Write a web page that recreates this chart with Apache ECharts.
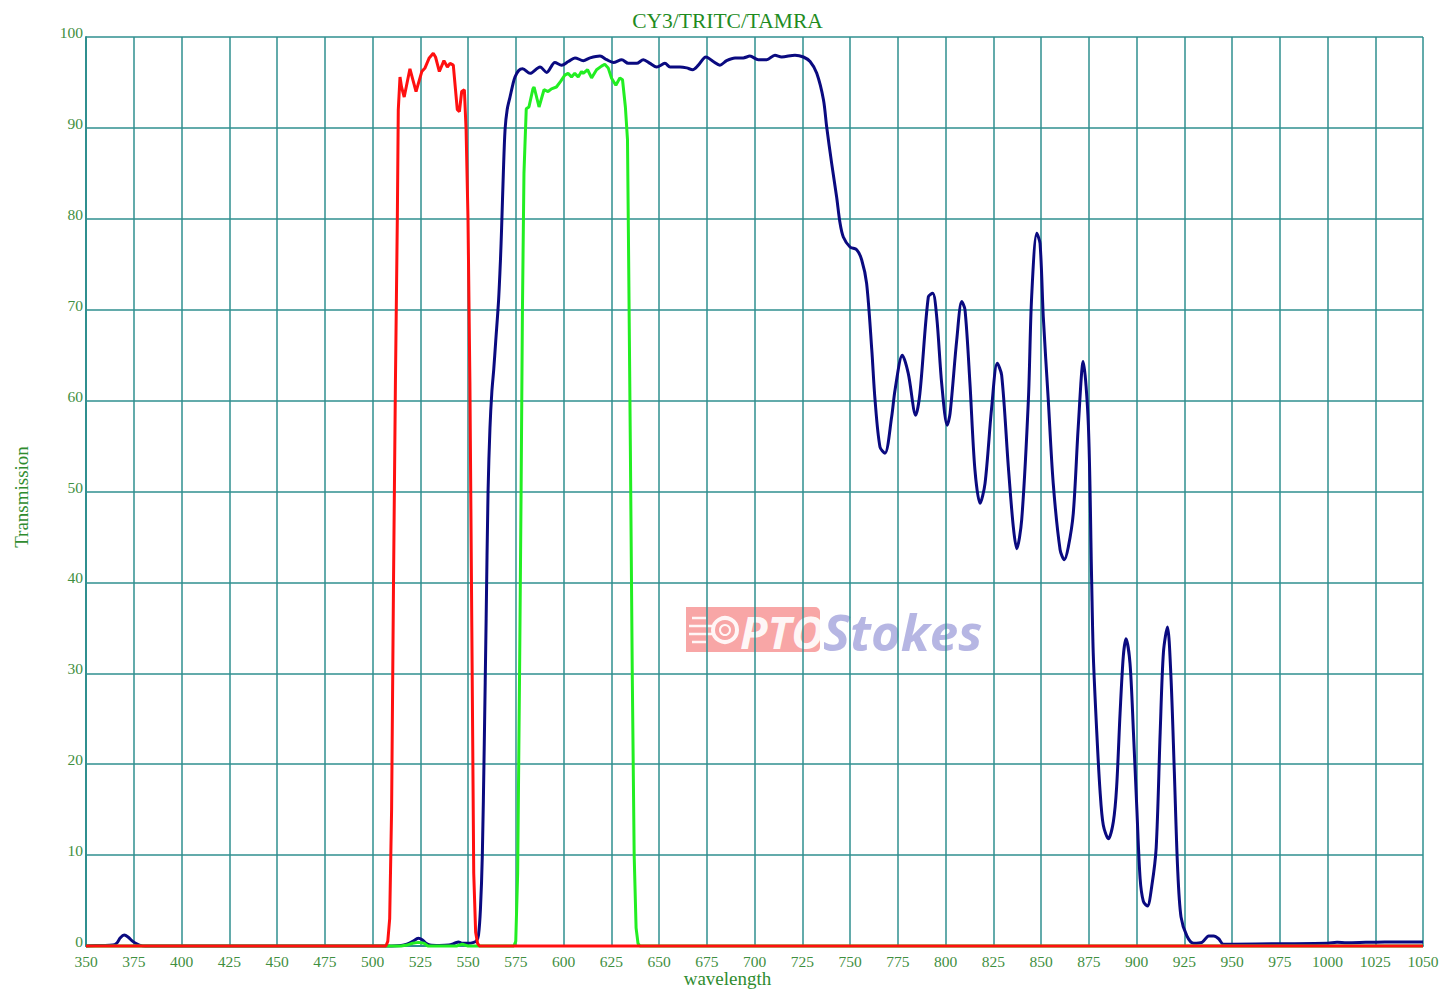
<!DOCTYPE html>
<html>
<head>
<meta charset="utf-8">
<script src="https://cdn.jsdelivr.net/npm/echarts@6/dist/echarts.min.js"></script>
<style>
html,body{margin:0;padding:0;background:#fff;}
#chart{width:1455px;height:1000px;}
</style>
</head>
<body>
<div id="chart"></div>
<script>
// ---- data (wavelength nm, transmission %) ----
const chartTitle = 'CY3/TRITC/TAMRA';
const xName = 'wavelength';
const yName = 'Transmission';
const xMin = 350, xMax = 1050, xStep = 25;
const yMin = 0, yMax = 100, yStep = 10;

const navyPoints = [
  [350,0],[355,0.05],[360,0.05],[364,0.1],[366,0.3],[368,0.9],[370,1.2],[372,1.0],[374,0.6],[376,0.3],[378,0.1],[381,0],
  [400,0],[450,0],[500,0],[510,0],[515,0.05],[518,0.2],[521,0.5],[524,0.85],[526,0.7],[528,0.3],[530,0.1],[535,0.05],
  [540,0.1],[543,0.3],[545,0.45],[547,0.3],[550,0.3],[553,0.4],[554.5,0.6],[555.5,1.2],
  [556.5,4],[557.5,10],[558.5,22],[559.5,36],[560.5,50],[561.5,57],[562.5,61],[563.5,63.5],[564.5,66.5],[566,71],
  [567,75.5],[567.6,79],[568.5,85],[569.4,89.8],[570.5,92],[572,93.4],[573.5,94.8],[574.6,95.6],[576.5,96.3],
  [578.6,96.5],[582.5,96.0],[587.7,96.7],[591.2,96.1],[595.5,97.2],[599,96.9],[602.5,97.3],[606,97.7],[610.4,97.4],
  [613.9,97.7],[619.1,97.9],[622.6,97.5],[626.1,97.2],[630.5,97.5],[633.9,97.1],[638.3,97.1],[641.8,97.5],[645.3,97.1],
  [648.8,96.7],[653.1,97.1],[655.8,96.7],[661,96.7],[664.5,96.6],[667.6,96.4],[670.6,96.9],[674.6,97.8],[678.4,97.3],
  [681.9,96.9],[685.4,97.4],[689.8,97.7],[694.1,97.7],[697.6,97.9],[702,97.5],[706.4,97.5],[710.7,98.0],[714.2,97.8],
  [721.2,98.0],[725.6,97.8],[729.1,97.3],[732.6,96.0],[736.1,93.1],[737.8,90.1],[740.4,86.1],[743,82.4],[744.8,79.5],
  [746.5,78.0],[750,76.9],[753.5,76.6],[756.1,75.5],[758.7,72.9],[761.4,65.6],[763.1,60.1],[765.7,54.9],[768.3,54.2],
  [771.8,58.2],[773.6,61.2],[777.4,65.0],[780.5,63.0],[784.4,58.4],[786.6,60.8],[791,71.4],[793.3,71.8],[795.4,69.2],
  [798,61.9],[800.9,57.3],[802.4,58.6],[805.9,66.7],[808.5,70.9],[810.2,70.0],[812.8,61.9],[815.4,52.4],[818.1,48.7],
  [820.7,50.9],[824.2,59.3],[827.1,64.1],[829.4,62.8],[832.9,52.7],[835.5,46.1],[837.3,43.7],[839.9,46.9],[843.4,60.1],
  [845.1,71.4],[847.8,78.4],[849.5,77.3],[851.2,69.2],[853.8,60.1],[856.4,50.9],[860,43.6],[862.2,42.5],[864.3,43.9],
  [866.9,47.6],[869.5,57.1],[872.1,64.3],[874.8,57.3],[876.5,40.4],[877.4,31.9],[879.2,23.5],[880.9,17.1],[882.6,13.3],
  [885.3,11.8],[887.9,13.7],[889.6,17.5],[891.4,25.6],[893.1,31.9],[894.5,33.8],[896.6,31.1],[898.4,23.5],[900.2,15.0],
  [901.9,7.4],[903.6,4.9],[905.7,4.4],[908,6.6],[910.3,10.8],[912.4,23.5],[914.1,32.3],[916.2,35.1],[918,29.8],
  [919.8,19.2],[921.5,8.7],[923.3,3.2],[926.4,1.1],[929.9,0.3],[934.3,0.4],[937.8,1.1],[940.4,1.1],[943,0.8],[945.5,0.2],
  [950,0.2],[975,0.25],[1000,0.3],[1005,0.4],[1010,0.35],[1020,0.4],[1030,0.45],[1040,0.45],[1050,0.45]
];

const greenPoints = [
  [350,0],[500,0],[515,0],[518,0.1],[521,0.3],[524,0.4],[527,0.3],[529,0],[544,0],[547,0.2],[550,0],
  [574,0],[575,0.5],[576,8],[577,30],[577.8,50],[578.5,70],[579.3,85],[579.8,88],[580.5,92.1],[581.9,92.3],[584,94.3],
  [584.6,94.5],[587.2,92.3],[589.8,94.2],[591.9,94.0],[593.7,94.3],[596.3,94.5],[598.4,95.1],[600.7,95.8],[602.4,96.0],
  [604.2,95.6],[605.9,96.0],[607.7,95.6],[609.4,96.2],[610.3,96.0],[612.6,96.4],[614.7,95.5],[617.3,96.4],[619.9,96.8],
  [621.6,97.0],[623.4,96.6],[625.1,95.5],[627.4,94.7],[629.5,95.5],[630.9,95.3],[632.4,92.3],[633.5,88.7],[634,78],
  [635,55],[636,30],[637,10],[638,2],[639,0.3],[640,0],[700,0],[800,0],[900,0],[1050,0]
];

const redPoints = [
  [350,0],[400,0],[450,0],[500,0],[507,0],[508,0.5],[509,3],[510,15],[511,40],[512,62],[513,80],[513.5,92],[514.4,95.6],
  [515.2,94.5],[516.6,93.4],[519.6,96.5],[522.8,94.0],[525.8,96.2],[527.5,96.6],[529.7,97.7],[531.8,98.2],[533,97.8],
  [535,96.2],[537.4,97.4],[539.2,96.7],[540.6,97.1],[542.3,96.9],[544.4,92.0],[545.5,91.8],[546.7,94.0],[548.1,94.2],
  [549,89.8],[550,80],[551,62],[552,35],[553,8],[554,1.5],[555,0.3],[556,0],[600,0],[700,0],[800,0],[900,0],[1000,0],[1050,0]
];

const teal = '#2f8f8f';
const labelGreen = '#3f8f3f';
const serif = '"Liberation Serif", "DejaVu Serif", serif';

const chart = echarts.init(document.getElementById('chart'), null, {renderer: 'svg'});

const option = {
  backgroundColor: '#ffffff',
  animation: false,
  title: {
    text: chartTitle,
    left: 'center',
    top: 5,
    textStyle: {fontFamily: serif, fontSize: 21.5, fontWeight: 'normal', color: '#1f8c1f'}
  },
  grid: {left: 86, right: 32, top: 37, bottom: 54, containLabel: false},
  xAxis: {
    type: 'value', min: xMin, max: xMax, interval: xStep,
    axisLine: {show: true, lineStyle: {color: teal, width: 2}},
    axisTick: {show: false},
    axisLabel: {fontFamily: serif, fontSize: 15.5, color: labelGreen, margin: 7, formatter: v => String(v)},
    splitLine: {show: true, lineStyle: {color: teal, width: 1.5}}
  },
  yAxis: {
    type: 'value', min: yMin, max: yMax, interval: yStep,
    axisLine: {show: true, lineStyle: {color: teal, width: 2}},
    axisTick: {show: false},
    axisLabel: {fontFamily: serif, fontSize: 15.5, color: labelGreen, margin: 3, verticalAlign: 'bottom', lineHeight: 9,
                formatter: v => String(v)},
    splitLine: {show: true, lineStyle: {color: teal, width: 1.5}}
  },
  series: [
    {type: 'line', data: navyPoints, showSymbol: false, smooth: 0.3, clip: false, z: 3,
     lineStyle: {color: '#0a0a80', width: 3}},
    {type: 'line', data: greenPoints, showSymbol: false, smooth: false, clip: false, z: 4,
     lineStyle: {color: '#22ee22', width: 3}},
    {type: 'line', data: redPoints, showSymbol: false, smooth: false, clip: false, z: 5,
     lineStyle: {color: '#ff1010', width: 3}}
  ],
  graphic: [
    {type: 'text', left: 'center', top: 969, z: 10,
     style: {text: xName, font: '19px ' + serif, fill: '#2f8c2f'}},
    {type: 'text', x: 21, y: 497, rotation: Math.PI / 2, z: 10,
     style: {text: yName, font: '19px ' + serif, fill: '#2f8c2f', align: 'center', verticalAlign: 'middle'}},
    // watermark logo
    {type: 'group', z: 20, children: [
      {type: 'rect', shape: {x: 686, y: 607, width: 134, height: 45, r: [0, 5, 5, 0]},
       style: {fill: 'rgba(240,70,70,0.48)'}},
      {type: 'line', shape: {x1: 692, y1: 618, x2: 706, y2: 618}, style: {stroke: '#fff', lineWidth: 2.5, opacity: 0.9}},
      {type: 'line', shape: {x1: 689, y1: 626, x2: 712, y2: 626}, style: {stroke: '#fff', lineWidth: 2.5, opacity: 0.9}},
      {type: 'line', shape: {x1: 689, y1: 634, x2: 712, y2: 634}, style: {stroke: '#fff', lineWidth: 2.5, opacity: 0.9}},
      {type: 'line', shape: {x1: 692, y1: 642, x2: 706, y2: 642}, style: {stroke: '#fff', lineWidth: 2.5, opacity: 0.9}},
      {type: 'circle', shape: {cx: 725, cy: 630, r: 12}, style: {fill: 'none', stroke: '#fff', lineWidth: 4, opacity: 0.9}},
      {type: 'circle', shape: {cx: 725, cy: 630, r: 5}, style: {fill: 'none', stroke: '#fff', lineWidth: 2, opacity: 0.9}},
      {type: 'text', x: 740, y: 631,
       style: {text: 'PTO', font: 'italic bold 45px "Open Sans", "DejaVu Sans", sans-serif', fill: 'rgba(255,255,255,0.92)', verticalAlign: 'middle', align: 'left'}},
      {type: 'text', x: 823, y: 631,
       style: {text: 'Stokes', font: 'italic bold 51px "Open Sans", "DejaVu Sans", sans-serif', fill: 'rgba(110,110,200,0.5)', verticalAlign: 'middle', align: 'left'}}
    ]}
  ]
};
chart.setOption(option);
</script>
</body>
</html>
